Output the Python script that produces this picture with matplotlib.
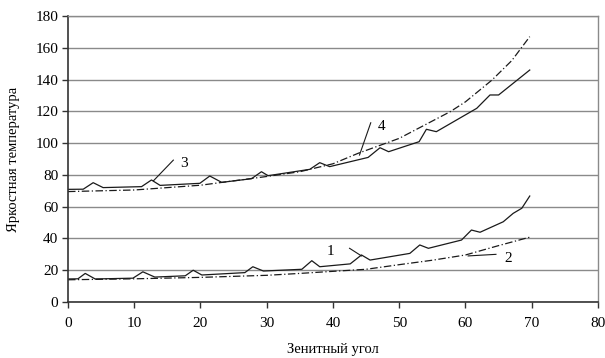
import matplotlib
matplotlib.use("Agg")
import matplotlib.pyplot as plt

plt.rcParams['font.family'] = ['Liberation Serif', 'DejaVu Serif']

# curve 1: lower measured
x1 = [0, 1.5, 2.6, 4.1, 9.8, 11.3, 13.1, 17.7, 18.9, 20.2, 26.7, 27.9, 29.5,
      35.3, 36.8, 38, 42.6, 44.3, 45.6, 51.6, 53.1, 54.4, 59.4, 60.9, 62.2,
      65.7, 67.2, 68.5, 69.7]
y1 = [14.5, 14.6, 18, 14.5, 15, 19, 15.7, 16.5, 20, 17, 18.5, 22.2, 19.5,
      20.6, 26, 22.2, 24, 29.6, 26.4, 30.6, 35.9, 33.8, 39, 45.3, 43.9,
      50.5, 55.8, 59, 66.7]
# curve 2: lower model
x2 = [0, 10, 20, 30, 35, 40, 45, 50, 55, 60, 65, 69.7]
y2 = [14, 14.6, 15.5, 16.8, 18, 19.3, 20.6, 23.5, 26.3, 29.6, 35.5, 40.8]
# curve 3: upper measured
x3 = [0, 2.3, 3.8, 5.3, 11.1, 12.6, 13.9, 19.9, 21.4, 23.2, 27.7, 29.2, 30.2,
      36.5, 38, 39.5, 45.3, 47.1, 48.4, 53, 54.1, 55.6, 61.7, 63.7, 65, 69.7]
y3 = [70.9, 71, 75.1, 72, 72.6, 76.8, 73.4, 74.7, 79.3, 75.3, 77.6, 82, 79.5,
      83.5, 87.7, 85.2, 91, 97.1, 94.6, 100.9, 108.7, 107.2, 121.9, 130.3,
      130.3, 146]
# curve 4: upper model
x4 = [0, 10, 20, 30, 35, 40, 43.8, 50, 57.7, 60, 64, 67, 69.7]
y4 = [69.5, 70.5, 73.5, 79, 82, 87, 93.6, 103, 119.8, 126, 139.7, 152, 167]

xticks = [0, 10, 20, 30, 40, 50, 60, 70, 80]
yticks = [0, 20, 40, 60, 80, 100, 120, 140, 160, 180]

fig = plt.figure(figsize=(6.05, 3.58), dpi=100)
ax = fig.add_axes([0.1124, 0.1564, 0.876, 0.7989])

ax.set_xlim(0, 80)
ax.set_ylim(0, 180)
ax.set_xticks(xticks)
ax.set_yticks(yticks)
ax.yaxis.grid(True, color="#8a8a8a", linewidth=1.0)
ax.set_axisbelow(True)

ln = "#1a1a1a"
ax.plot(x1, y1, color=ln, linewidth=0.9)
ax.plot(x2, y2, color=ln, linewidth=0.9, linestyle=(0, (6, 2, 1, 2)))
ax.plot(x3, y3, color=ln, linewidth=0.9)
ax.plot(x4, y4, color=ln, linewidth=0.9, linestyle=(0, (6, 2, 1, 2)))

# curve labels with leader lines
ax.plot([12.9, 15.9], [76.3, 89.3], color=ln, linewidth=0.8)
ax.text(17.5, 87, "3", fontsize=11, ha="center", va="center")
ax.plot([44.0, 45.7], [92.5, 112.8], color=ln, linewidth=0.8)
ax.text(47.4, 110.3, "4", fontsize=11, ha="center", va="center")
ax.plot([42.5, 44.3], [33.8, 29.0], color=ln, linewidth=0.8)
ax.text(39.6, 31.7, "1", fontsize=11, ha="center", va="center")
ax.plot([64.6, 60.4], [30.0, 29.0], color=ln, linewidth=0.8)
ax.text(66.5, 27.5, "2", fontsize=11, ha="center", va="center")

for s in ["left", "bottom"]:
    ax.spines[s].set_color("#333333")
    ax.spines[s].set_linewidth(1.2)
for s in ["right", "top"]:
    ax.spines[s].set_color("#8a8a8a")
    ax.spines[s].set_linewidth(1.0)

ax.tick_params(axis="both", direction="out", length=4, width=1.0,
               color="#333333", labelsize=11, pad=3)
ax.tick_params(axis="x", pad=7)

ax.set_xlabel("Зенитный угол", fontsize=10.5, labelpad=9)
ax.set_ylabel("Яркостная температура", fontsize=10.5, labelpad=11)

fig.savefig("out.png", dpi=100)
